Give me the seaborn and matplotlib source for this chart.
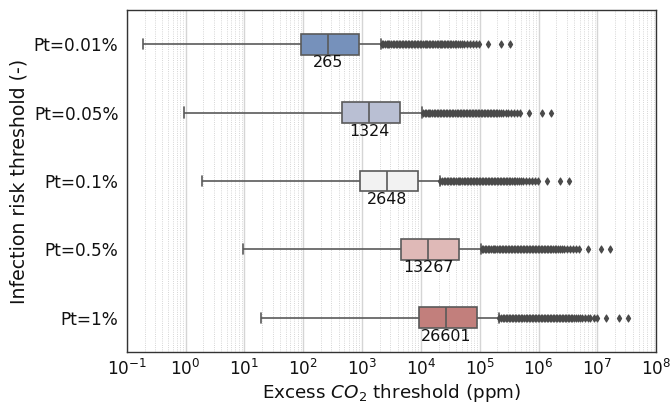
import pandas as pd
import numpy as np
import matplotlib
matplotlib.use("Agg")
import matplotlib.pyplot as plt
import seaborn as sns

# Risk thresholds (rows) and their median excess CO2 threshold (ppm)
thresholds = ["Pt=0.01%", "Pt=0.05%", "Pt=0.1%", "Pt=0.5%", "Pt=1%"]
medians = [265, 1324, 2648, 13267, 26601]

# five-number summary: low whisker, Q1, median, Q3, high whisker
box_001 = [0.19, 92, 265, 890, 2090]
box_005 = [0.95, 460, 1324, 4450, 10450]
box_01 = [1.9, 920, 2648, 8900, 20900]
box_05 = [9.5, 4600, 13267, 44500, 104500]
box_1 = [19, 9200, 26601, 89000, 209000]

# outliers (fliers)
fl_001 = [2.15e3, 2.3e3, 2.45e3, 2.6e3, 2.75e3, 2.9e3, 3.1e3, 3.3e3, 3.5e3, 3.7e3,
          3.95e3, 4.2e3, 4.45e3, 4.7e3, 5.0e3, 5.3e3, 5.65e3, 6.0e3, 6.35e3, 6.75e3,
          7.15e3, 7.6e3, 8.05e3, 8.55e3, 9.05e3, 9.6e3, 1.02e4, 1.08e4, 1.15e4, 1.22e4,
          1.29e4, 1.37e4, 1.45e4, 1.54e4, 1.63e4, 1.73e4, 1.84e4, 1.95e4, 2.07e4, 2.19e4,
          2.32e4, 2.46e4, 2.61e4, 2.77e4, 2.94e4, 3.12e4, 3.3e4, 3.5e4, 3.75e4, 4.0e4,
          4.3e4, 4.65e4, 5.0e4, 5.5e4, 6.1e4, 6.8e4, 7.6e4, 8.6e4, 9.7e4, 1.4e5,
          2.3e5, 3.3e5]
fl_005 = [1.075e4, 1.15e4, 1.225e4, 1.3e4, 1.375e4, 1.45e4, 1.55e4, 1.65e4, 1.75e4, 1.85e4,
          1.975e4, 2.1e4, 2.225e4, 2.35e4, 2.5e4, 2.65e4, 2.825e4, 3.0e4, 3.175e4, 3.375e4,
          3.575e4, 3.8e4, 4.025e4, 4.275e4, 4.525e4, 4.8e4, 5.1e4, 5.4e4, 5.75e4, 6.1e4,
          6.45e4, 6.85e4, 7.25e4, 7.7e4, 8.15e4, 8.65e4, 9.2e4, 9.75e4, 1.035e5, 1.095e5,
          1.16e5, 1.23e5, 1.305e5, 1.385e5, 1.47e5, 1.56e5, 1.65e5, 1.75e5, 1.875e5, 2.0e5,
          2.15e5, 2.325e5, 2.5e5, 2.75e5, 3.05e5, 3.4e5, 3.8e5, 4.3e5, 4.85e5, 7.0e5,
          1.15e6, 1.65e6]
fl_01 = [2.15e4, 2.3e4, 2.45e4, 2.6e4, 2.75e4, 2.9e4, 3.1e4, 3.3e4, 3.5e4, 3.7e4,
         3.95e4, 4.2e4, 4.45e4, 4.7e4, 5.0e4, 5.3e4, 5.65e4, 6.0e4, 6.35e4, 6.75e4,
         7.15e4, 7.6e4, 8.05e4, 8.55e4, 9.05e4, 9.6e4, 1.02e5, 1.08e5, 1.15e5, 1.22e5,
         1.29e5, 1.37e5, 1.45e5, 1.54e5, 1.63e5, 1.73e5, 1.84e5, 1.95e5, 2.07e5, 2.19e5,
         2.32e5, 2.46e5, 2.61e5, 2.77e5, 2.94e5, 3.12e5, 3.3e5, 3.5e5, 3.75e5, 4.0e5,
         4.3e5, 4.65e5, 5.0e5, 5.5e5, 6.1e5, 6.8e5, 7.6e5, 8.6e5, 9.7e5, 1.4e6,
         2.3e6, 3.3e6]
fl_05 = [1.075e5, 1.15e5, 1.225e5, 1.3e5, 1.375e5, 1.45e5, 1.55e5, 1.65e5, 1.75e5, 1.85e5,
         1.975e5, 2.1e5, 2.225e5, 2.35e5, 2.5e5, 2.65e5, 2.825e5, 3.0e5, 3.175e5, 3.375e5,
         3.575e5, 3.8e5, 4.025e5, 4.275e5, 4.525e5, 4.8e5, 5.1e5, 5.4e5, 5.75e5, 6.1e5,
         6.45e5, 6.85e5, 7.25e5, 7.7e5, 8.15e5, 8.65e5, 9.2e5, 9.75e5, 1.035e6, 1.095e6,
         1.16e6, 1.23e6, 1.305e6, 1.385e6, 1.47e6, 1.56e6, 1.65e6, 1.75e6, 1.875e6, 2.0e6,
         2.15e6, 2.325e6, 2.5e6, 2.75e6, 3.05e6, 3.4e6, 3.8e6, 4.3e6, 4.85e6, 7.0e6,
         1.15e7, 1.65e7]
fl_1 = [2.15e5, 2.3e5, 2.45e5, 2.6e5, 2.75e5, 2.9e5, 3.1e5, 3.3e5, 3.5e5, 3.7e5,
        3.95e5, 4.2e5, 4.45e5, 4.7e5, 5.0e5, 5.3e5, 5.65e5, 6.0e5, 6.35e5, 6.75e5,
        7.15e5, 7.6e5, 8.05e5, 8.55e5, 9.05e5, 9.6e5, 1.02e6, 1.08e6, 1.15e6, 1.22e6,
        1.29e6, 1.37e6, 1.45e6, 1.54e6, 1.63e6, 1.73e6, 1.84e6, 1.95e6, 2.07e6, 2.19e6,
        2.32e6, 2.46e6, 2.61e6, 2.77e6, 2.94e6, 3.12e6, 3.3e6, 3.5e6, 3.75e6, 4.0e6,
        4.3e6, 4.65e6, 5.0e6, 5.5e6, 6.1e6, 6.8e6, 7.6e6, 8.6e6, 9.7e6, 1.4e7,
        2.3e7, 3.3e7]

box_colors = ["#7691bb", "#b9bfd3", "#f2f2f2", "#dfb9b7", "#c27f7c"]

boxes = [box_001, box_005, box_01, box_05, box_1]
fliers = [fl_001, fl_005, fl_01, fl_05, fl_1]

box_df = pd.DataFrame({
    "Pt": np.repeat(thresholds, [len(b) for b in boxes]),
    "co2": np.concatenate(boxes),
})
flier_df = pd.DataFrame({
    "Pt": np.repeat(thresholds, [len(f) for f in fliers]),
    "co2": np.concatenate(fliers),
})

sns.set_style("ticks")
plt.rcParams["font.family"] = ["DejaVu Sans"]
plt.rcParams["text.color"] = "#111111"
plt.rcParams["axes.labelcolor"] = "#111111"
plt.rcParams["xtick.color"] = "#111111"
plt.rcParams["ytick.color"] = "#111111"

fig = plt.figure(figsize=(6.71, 4.03), dpi=100)
ax = fig.add_axes([0.189, 0.127, 0.789, 0.848])

ax.set_xscale("log")
ax.grid(True, which="major", axis="x", color="#d5d5d5", lw=1.0, zorder=0)
ax.grid(True, which="minor", axis="x", color="#c8c8c8", lw=0.6, ls=":", zorder=0)
ax.grid(True, which="major", axis="y", color="#dddddd", lw=0.8, zorder=0)
ax.set_axisbelow(True)

sns.boxplot(data=box_df, x="co2", y="Pt", hue="Pt", order=thresholds,
            palette=box_colors, saturation=1, whis=(0, 100), width=0.3,
            showfliers=False, linecolor="#5a5a5a", linewidth=1.2,
            legend=False, ax=ax)
sns.stripplot(data=flier_df, x="co2", y="Pt", order=thresholds, jitter=False,
              marker="d", size=3.6, color="#4a4a4a", edgecolor="#4a4a4a",
              linewidth=0.8, ax=ax)

for i, m in enumerate(medians):
    ax.text(m, i + 0.27, f"{m}", ha="center", va="center", fontsize=11.4)

ax.set_xlim(1e-1, 1e8)
ax.set_ylim(4.5, -0.5)
ax.xaxis.set_major_locator(matplotlib.ticker.LogLocator(base=10, numticks=20))
ax.xaxis.set_minor_locator(matplotlib.ticker.LogLocator(base=10, subs=np.arange(2, 10), numticks=20))
ax.tick_params(axis="both", which="major", labelsize=12.2, length=0)
ax.tick_params(axis="y", pad=6)
ax.tick_params(axis="x", pad=5)
ax.tick_params(axis="x", which="minor", length=0)
ax.set_xlabel(r"Excess $CO_2$ threshold (ppm)", fontsize=13.2, labelpad=2)
ax.set_ylabel("Infection risk threshold (-)", fontsize=13.6)
for s in ax.spines.values():
    s.set_color("#333333")
    s.set_linewidth(1.0)

fig.savefig("out.png", dpi=100)
